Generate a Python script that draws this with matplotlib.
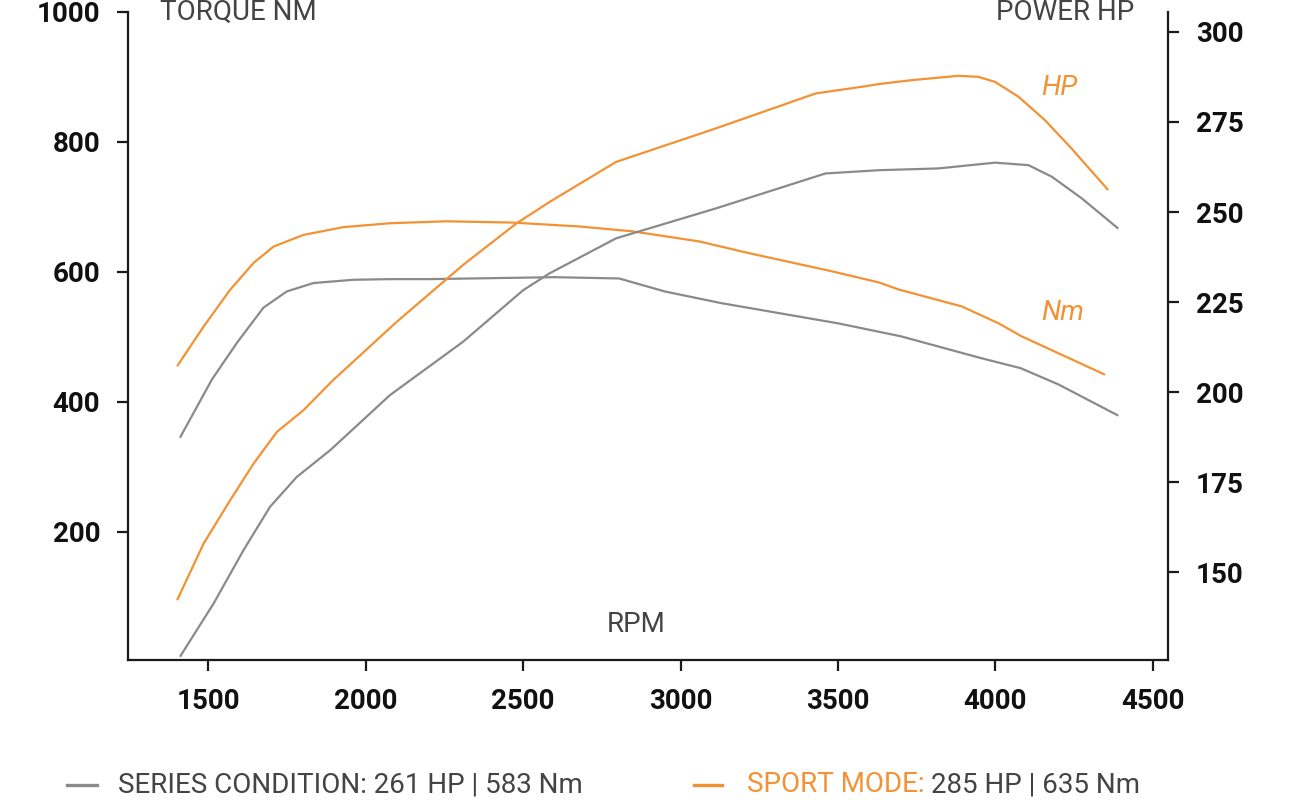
import matplotlib
matplotlib.use("Agg")
from matplotlib import pyplot as plt
from matplotlib.lines import Line2D

plt.rcParams['font.family'] = ['Roboto', 'DejaVu Sans']

GRAY = "#8a8a8a"
ORANGE = "#f39233"
TEXT = "#444444"
INK = "#1a1a1a"

# series condition, torque (Nm)
series_nm_rpm = [1410, 1512, 1591, 1675, 1749, 1834, 1960, 2077, 2200, 2600, 2805,
                 2950, 3130, 3500, 3700, 3950, 4080, 4200, 4390]
series_nm = [345, 435, 491, 545, 570, 583, 588, 589, 589, 592, 590,
             570, 552, 521, 501, 468, 452, 427, 379]

# series condition, power (HP)
series_hp_rpm = [1410, 1517, 1612, 1696, 1781, 1887, 2077, 2309, 2500, 2584, 2680,
                 2795, 3112, 3460, 3629, 3819, 3999, 4105, 4179, 4274, 4390]
series_hp = [126.6, 141.4, 156.2, 168.2, 176.5, 183.9, 199.2, 214, 228.3, 233, 237.4,
             242.7, 251, 260.7, 261.6, 262.1, 263.7, 263, 259.8, 253.8, 245.4]

# sport mode, torque (Nm)
sport_nm_rpm = [1401, 1485, 1570, 1644, 1707, 1802, 1929, 2077, 2256, 2467, 2679, 2848,
                3059, 3217, 3481, 3629, 3693, 3893, 4010, 4083, 4348]
sport_nm = [455, 516, 573, 614, 639, 657, 669, 675, 678, 676, 670, 662.5,
            647, 629, 601, 584, 573, 547, 521, 501, 442]

# sport mode, power (HP)
sport_hp_rpm = [1401, 1485, 1570, 1644, 1718, 1802, 1897, 2098, 2309, 2478, 2584, 2795,
                3112, 3429, 3587, 3629, 3735, 3883, 3946, 3999, 4073, 4157, 4242, 4358]
sport_hp = [142.3, 158.0, 170.1, 180.2, 189, 195, 203.4, 219.5, 235.3, 246.8, 252.8, 263.9,
            273.2, 282.9, 284.9, 285.5, 286.6, 287.8, 287.5, 286.1, 282, 275.5, 267.6, 256.1]

x_ticks = [1500, 2000, 2500, 3000, 3500, 4000, 4500]
nm_ticks = [200, 400, 600, 800, 1000]
hp_ticks = [150, 175, 200, 225, 250, 275, 300]

legend_series = "SERIES CONDITION: 261 HP | 583 Nm"
legend_sport_a = "SPORT MODE:"
legend_sport_b = "285 HP | 635 Nm"

fig = plt.figure(figsize=(13, 8), dpi=100)
ax = fig.add_axes([128 / 1300, 140 / 800, 1040 / 1300, 648 / 800])
ax2 = ax.twinx()

line_kw = dict(lw=1.6, solid_joinstyle='round', solid_capstyle='butt')
ax.plot(series_nm_rpm, series_nm, color=GRAY, **line_kw)
ax.plot(sport_nm_rpm, sport_nm, color=ORANGE, **line_kw)
ax2.plot(series_hp_rpm, series_hp, color=GRAY, **line_kw)
ax2.plot(sport_hp_rpm, sport_hp, color=ORANGE, **line_kw)

ax.set_xlim(1245, 4548)
ax.set_ylim(3, 1000)
ax2.set_ylim(125.7, 305.5)

ax.set_xticks(x_ticks)
ax.set_yticks(nm_ticks)
ax2.set_yticks(hp_ticks)

for a in (ax, ax2):
    a.spines['top'].set_visible(False)
    for s in a.spines.values():
        s.set_linewidth(1.6)
        s.set_color(INK)
    a.tick_params(direction='out', length=8, width=1.6, color=INK,
                  labelsize=20, labelcolor='#111111', pad=12)
ax.spines['right'].set_visible(False)
ax2.spines['left'].set_visible(False)
ax2.spines['bottom'].set_visible(False)
for lab in ax.get_xticklabels() + ax.get_yticklabels() + ax2.get_yticklabels():
    lab.set_fontweight('bold')

fig.text(160 / 1300, 0.985, "TORQUE NM", fontsize=20, color=TEXT, va='center')
fig.text(1134 / 1300, 0.985, "POWER HP", fontsize=20, color=TEXT, va='center', ha='right')
fig.text(636 / 1300, (800 - 625) / 800, "RPM", fontsize=20, color=TEXT, va='center', ha='center')
fig.text(1041 / 1300, (800 - 88) / 800, "HP", fontsize=20, color=ORANGE, style='italic', va='center')
fig.text(1041 / 1300, (800 - 313) / 800, "Nm", fontsize=20, color=ORANGE, style='italic', va='center')

ly = (800 - 785) / 800
fig.add_artist(Line2D([67 / 1300, 97 / 1300], [ly, ly], color=GRAY, lw=2.4))
fig.add_artist(Line2D([694 / 1300, 722 / 1300], [ly, ly], color=ORANGE, lw=2.4))
fig.text(118 / 1300, ly, legend_series, fontsize=20, color=TEXT, va='center')
fig.text(747 / 1300, ly, legend_sport_a, fontsize=20, color=ORANGE, va='center')
fig.text(931 / 1300, ly, legend_sport_b, fontsize=20, color=TEXT, va='center')

fig.savefig("out.png", dpi=100)
